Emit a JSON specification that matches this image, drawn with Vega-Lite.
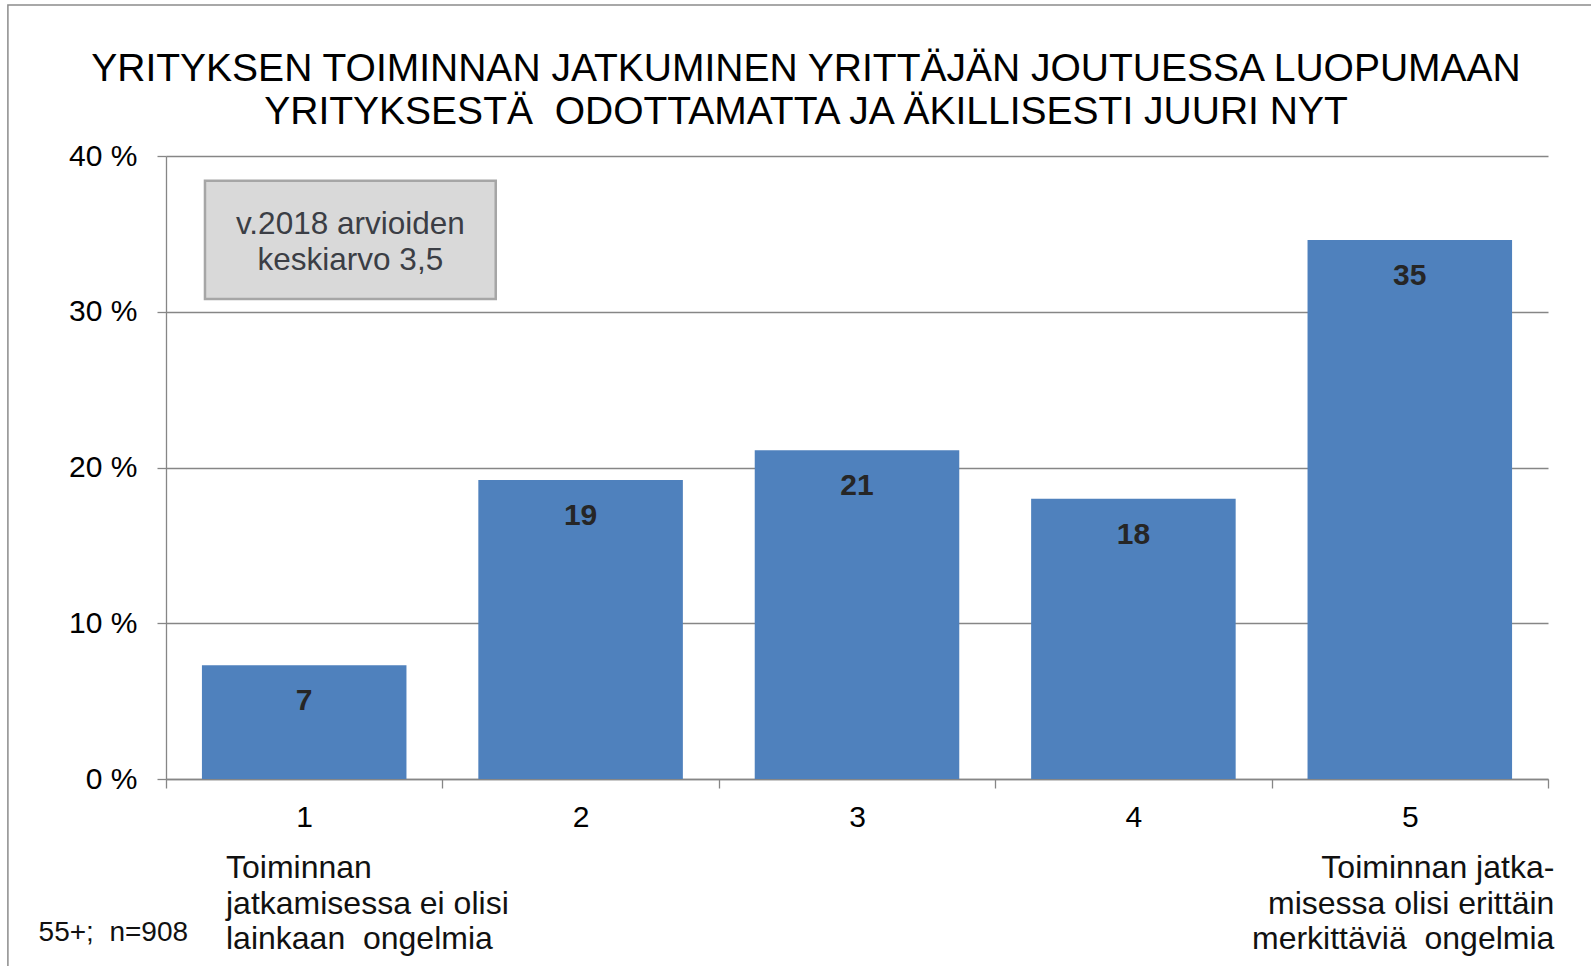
{
  "$schema": "https://vega.github.io/schema/vega-lite/v6.json",
  "autosize": {"type": "none"},
  "width": 1382,
  "height": 623,
  "padding": {"left": 166, "top": 156, "right": 43, "bottom": 187},
  "background": "white",
  "config": {
    "font": "Liberation Sans",
    "view": {"stroke": null},
    "axisY": {
      "grid": true, "gridColor": "#868686", "gridWidth": 1.3,
      "domainColor": "#868686", "domainWidth": 1.3, "tickColor": "#868686", "tickSize": 9, "tickWidth": 1.3,
      "labelFontSize": 30, "labelColor": "black", "labelPadding": 20, "labelFont": "Liberation Sans"
    }
  },
  "title": {
    "text": ["YRITYKSEN TOIMINNAN JATKUMINEN YRITTÄJÄN JOUTUESSA LUOPUMAAN", "YRITYKSESTÄ\u00a0 ODOTTAMATTA JA ÄKILLISESTI JUURI NYT"],
    "frame": "group",
    "fontSize": 39,
    "font": "Liberation Sans",
    "fontWeight": "normal",
    "color": "black",
    "lineHeight": 43,
    "anchor": "middle",
    "dx": -51,
    "offset": -128
  },
  "datasets": {
    "bars": [
      {"k": "1", "v": 7.3},
      {"k": "2", "v": 19.2},
      {"k": "3", "v": 21.1},
      {"k": "4", "v": 18.0},
      {"k": "5", "v": 34.6}
    ],
    "box": [{"x0": 0.141, "x1": 1.193, "y0": 38.41, "y1": 30.82}],
    "boxtext": [{"x": 0.667, "y": 35.6, "t": "v.2018 arvioiden\nkeskiarvo 3,5"}],
    "lefttext": [{"x": 0.217, "y": -5.72, "t": "Toiminnan\njatkamisessa ei olisi\nlainkaan\u00a0 ongelmia"}],
    "righttext": [{"x": 5.023, "y": -5.72, "t": "Toiminnan jatka-\nmisessa olisi erittäin\u00a0\u00a0\nmerkittäviä\u00a0 ongelmia"}],
    "note": [{"x": -0.461, "y": -9.86, "t": "55+;\u00a0 n=908"}],
    "frame": [{"x0": -0.572, "x1": 5.4, "y0": 49.7, "y1": -14}]
  },
  "layer": [
    {
      "data": {"name": "bars"},
      "layer": [
        {
          "mark": {"type": "bar", "color": "#4f81bd", "width": {"band": 0.74}},
          "encoding": {
            "x": {
              "field": "k", "type": "ordinal",
              "scale": {"paddingInner": 0, "paddingOuter": 0},
              "axis": {
                "title": null, "labelAngle": 0, "tickBand": "extent", "tickSize": 9,
                "tickColor": "#868686", "tickWidth": 1.3, "domainColor": "#868686", "domainWidth": 1.3,
                "labelFontSize": 30, "labelColor": "black", "labelPadding": 14, "labelFont": "Liberation Sans", "grid": false
              }
            },
            "y": {
              "field": "v", "type": "quantitative",
              "scale": {"domain": [0, 40], "nice": false},
              "axis": {"title": null, "values": [0, 10, 20, 30, 40], "labelExpr": "datum.value + ' %'"}
            }
          }
        },
        {
          "mark": {"type": "text", "dy": 36, "fontWeight": "bold", "fontSize": 30, "color": "#262626", "font": "Liberation Sans"},
          "encoding": {
            "x": {"field": "k", "type": "ordinal"},
            "y": {"field": "v", "type": "quantitative", "axis": {"title": null, "values": [0, 10, 20, 30, 40], "labelExpr": "datum.value + ' %'"}},
            "text": {"field": "v", "type": "quantitative", "format": ".0f"}
          }
        }
      ]
    },
    {
      "layer": [
        {
          "data": {"name": "frame"},
          "mark": {"type": "rect", "fill": null, "stroke": "#8c8c8c", "strokeWidth": 1.5},
          "encoding": {
            "x": {"field": "x0", "type": "quantitative", "scale": {"domain": [0, 5], "nice": false, "zero": false}, "axis": null},
            "x2": {"field": "x1"},
            "y": {"field": "y0", "type": "quantitative", "scale": {"domain": [0, 40], "nice": false}, "axis": {"title": null, "values": [0, 10, 20, 30, 40], "labelExpr": "datum.value + ' %'"}},
            "y2": {"field": "y1"}
          }
        },
        {
          "data": {"name": "box"},
          "mark": {"type": "rect", "fill": "#d9d9d9", "stroke": "#a6a6a6", "strokeWidth": 2.5},
          "encoding": {
            "x": {"field": "x0", "type": "quantitative", "scale": {"domain": [0, 5], "nice": false, "zero": false}, "axis": null},
            "x2": {"field": "x1"},
            "y": {"field": "y0", "type": "quantitative", "scale": {"domain": [0, 40], "nice": false}, "axis": {"title": null, "values": [0, 10, 20, 30, 40], "labelExpr": "datum.value + ' %'"}},
            "y2": {"field": "y1"}
          }
        },
        {
          "data": {"name": "boxtext"},
          "mark": {"type": "text", "align": "center", "baseline": "middle", "fontSize": 31.5, "lineHeight": 36.6, "lineBreak": "\n", "color": "#3b3e45", "font": "Liberation Sans"},
          "encoding": {
            "x": {"field": "x", "type": "quantitative", "scale": {"domain": [0, 5], "nice": false, "zero": false}, "axis": null},
            "y": {"field": "y", "type": "quantitative", "scale": {"domain": [0, 40], "nice": false}, "axis": {"title": null, "values": [0, 10, 20, 30, 40], "labelExpr": "datum.value + ' %'"}},
            "text": {"field": "t", "type": "nominal"}
          }
        },
        {
          "data": {"name": "lefttext"},
          "mark": {"type": "text", "align": "left", "baseline": "middle", "fontSize": 32, "lineHeight": 35.5, "lineBreak": "\n", "color": "#111111", "font": "Liberation Sans"},
          "encoding": {
            "x": {"field": "x", "type": "quantitative", "scale": {"domain": [0, 5], "nice": false, "zero": false}, "axis": null},
            "y": {"field": "y", "type": "quantitative", "scale": {"domain": [0, 40], "nice": false}, "axis": {"title": null, "values": [0, 10, 20, 30, 40], "labelExpr": "datum.value + ' %'"}},
            "text": {"field": "t", "type": "nominal"}
          }
        },
        {
          "data": {"name": "righttext"},
          "mark": {"type": "text", "align": "right", "baseline": "middle", "fontSize": 32, "lineHeight": 35.5, "lineBreak": "\n", "color": "#111111", "font": "Liberation Sans"},
          "encoding": {
            "x": {"field": "x", "type": "quantitative", "scale": {"domain": [0, 5], "nice": false, "zero": false}, "axis": null},
            "y": {"field": "y", "type": "quantitative", "scale": {"domain": [0, 40], "nice": false}, "axis": {"title": null, "values": [0, 10, 20, 30, 40], "labelExpr": "datum.value + ' %'"}},
            "text": {"field": "t", "type": "nominal"}
          }
        },
        {
          "data": {"name": "note"},
          "mark": {"type": "text", "align": "left", "baseline": "middle", "fontSize": 28, "color": "#111111", "font": "Liberation Sans"},
          "encoding": {
            "x": {"field": "x", "type": "quantitative", "scale": {"domain": [0, 5], "nice": false, "zero": false}, "axis": null},
            "y": {"field": "y", "type": "quantitative", "scale": {"domain": [0, 40], "nice": false}, "axis": {"title": null, "values": [0, 10, 20, 30, 40], "labelExpr": "datum.value + ' %'"}},
            "text": {"field": "t", "type": "nominal"}
          }
        }
      ]
    }
  ],
  "resolve": {"scale": {"x": "independent"}}
}
